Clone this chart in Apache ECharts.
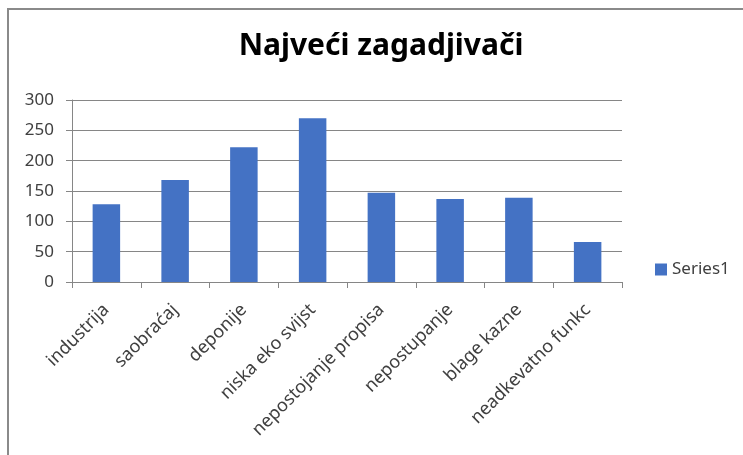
<!DOCTYPE html>
<html>
<head>
<meta charset="utf-8">
<script src="https://cdn.jsdelivr.net/npm/echarts@6/dist/echarts.min.js"></script>
<style>
  html, body { margin: 0; padding: 0; background: #fff; }
  #wrap { position: relative; width: 743px; height: 455px; overflow: hidden; }
  #frame {
    position: absolute; left: 7px; top: 8px; width: 760px; height: 470px;
    border-top: 2px solid #8a8a8a; border-left: 2px solid #8a8a8a;
  }
  #chart { position: absolute; left: 0; top: 0; width: 743px; height: 455px; }
</style>
</head>
<body>
<div id="wrap">
  <div id="frame"></div>
  <div id="chart"></div>
</div>
<script>
const titleText = "Najveći zagadjivači";
const categories = ["industrija", "saobraćaj", "deponije", "niska eko svijst",
  "nepostojanje propisa", "nepostupanje", "blage kazne", "neadkevatno funkc"];
const seriesName = "Series1";
const values = [128, 168, 222, 270, 147, 137, 139, 66];
const yTicks = [0, 50, 100, 150, 200, 250, 300];

const font = "'Noto Sans', sans-serif";
const textColor = "#404040";
const lineColor = "#868686";

const chart = echarts.init(document.getElementById("chart"), null, { renderer: "canvas" });
chart.setOption({
  animation: false,
  title: {
    text: titleText,
    left: 376,
    textAlign: "center",
    top: 26,
    textStyle: { fontFamily: font, fontSize: 30, fontWeight: "bold", color: "#000" }
  },
  legend: {
    data: [seriesName],
    left: 650,
    top: 256,
    itemWidth: 12,
    itemHeight: 12,
    itemGap: 6,
    icon: "rect",
    textStyle: { fontFamily: font, fontSize: 17, color: textColor }
  },
  grid: { left: 72, right: 121, top: 100, bottom: 173, containLabel: false },
  xAxis: {
    type: "category",
    data: categories,
    boundaryGap: true,
    axisLine: { lineStyle: { color: lineColor, width: 1 } },
    axisTick: { show: true, alignWithLabel: false, length: 6, lineStyle: { color: lineColor } },
    axisLabel: {
      rotate: 45,
      interval: 0,
      margin: 25,
      fontFamily: font,
      fontSize: 18,
      color: textColor
    }
  },
  yAxis: {
    type: "value",
    min: yTicks[0],
    max: yTicks[yTicks.length - 1],
    interval: 50,
    axisLine: { show: true, lineStyle: { color: lineColor, width: 1 } },
    axisTick: { show: true, length: 6, lineStyle: { color: lineColor } },
    splitLine: { show: true, lineStyle: { color: lineColor, width: 1 } },
    axisLabel: { margin: 18, fontFamily: font, fontSize: 17, color: textColor }
  },
  series: [{
    name: seriesName,
    type: "bar",
    data: values,
    barWidth: "40%",
    itemStyle: { color: "#4472c4" }
  }]
});
</script>
</body>
</html>
